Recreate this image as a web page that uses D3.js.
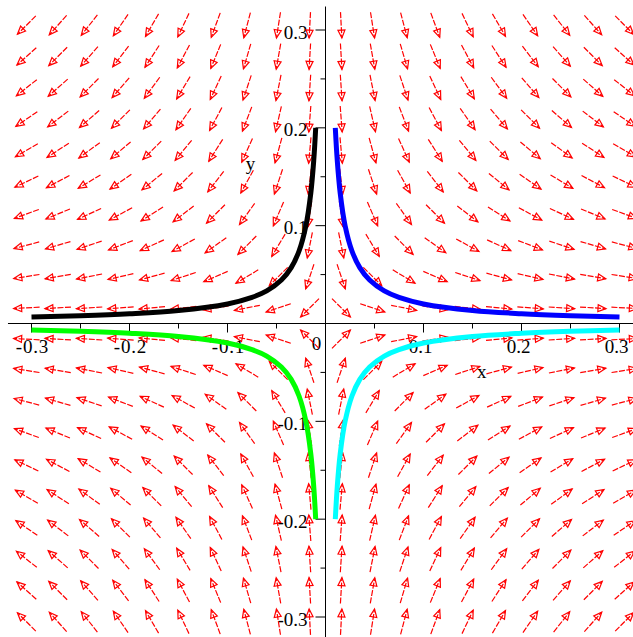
<!DOCTYPE html>
<html>
<head>
<meta charset="utf-8">
<script src="https://cdn.jsdelivr.net/npm/d3@7"></script>
<style>
  body { margin: 0; background: #fff; }
  svg { display: block; }
  .tick-label { font-family: "Liberation Serif", serif; font-size: 19px; fill: #000; }
</style>
</head>
<body>
<svg class="chart" width="633" height="637"></svg>
<script>
// arrow grid (20 x 20, same spacing both ways)
const gridPos = [-0.305, -0.273, -0.241, -0.209, -0.177, -0.145, -0.112, -0.080, -0.048, -0.016,
                 0.016, 0.048, 0.080, 0.112, 0.145, 0.177, 0.209, 0.241, 0.273, 0.305];

// tick values
const majorTicks = [-0.3, -0.2, -0.1, 0.1, 0.2, 0.3];
const minorTicks = [-0.25, -0.15, -0.05, 0.05, 0.15, 0.25];
const tickLabels = ["-0.3", "-0.2", "-0.1", "0.1", "0.2", "0.3"];

// solution curves
const blackX = [-0.300, -0.250, -0.200, -0.150, -0.100, -0.075, -0.060, -0.045, -0.035, -0.027, -0.020, -0.015, -0.012, -0.010];
const blackY = [0.0067, 0.0080, 0.0100, 0.0133, 0.0200, 0.0267, 0.0333, 0.0444, 0.0571, 0.0741, 0.1000, 0.1333, 0.1667, 0.2000];
const blueX = [0.010, 0.012, 0.015, 0.020, 0.027, 0.035, 0.045, 0.060, 0.075, 0.100, 0.150, 0.200, 0.250, 0.300];
const blueY = [0.2000, 0.1667, 0.1333, 0.1000, 0.0741, 0.0571, 0.0444, 0.0333, 0.0267, 0.0200, 0.0133, 0.0100, 0.0080, 0.0067];
const greenX = [-0.300, -0.250, -0.200, -0.150, -0.100, -0.075, -0.060, -0.045, -0.035, -0.027, -0.020, -0.015, -0.012, -0.010];
const greenY = [-0.0067, -0.0080, -0.0100, -0.0133, -0.0200, -0.0267, -0.0333, -0.0444, -0.0571, -0.0741, -0.1000, -0.1333, -0.1667, -0.2000];
const cyanX = [0.010, 0.012, 0.015, 0.020, 0.027, 0.035, 0.045, 0.060, 0.075, 0.100, 0.150, 0.200, 0.250, 0.300];
const cyanY = [-0.2000, -0.1667, -0.1333, -0.1000, -0.0741, -0.0571, -0.0444, -0.0333, -0.0267, -0.0200, -0.0133, -0.0100, -0.0080, -0.0067];

// system: x' = x, y' = -y
const field = (x, y) => [x, -y];

const svg = d3.select("svg.chart");

const x = d3.scaleLinear().domain([-0.3, 0.3]).range([31.5, 619.5]);
const y = d3.scaleLinear().domain([-0.3, 0.3]).range([617, 30]);

// axes
svg.append("line")
  .attr("x1", x(-0.324)).attr("x2", x(0.324))
  .attr("y1", y(0)).attr("y2", y(0))
  .attr("stroke", "#000").attr("stroke-width", 1);
svg.append("line")
  .attr("x1", x(0)).attr("x2", x(0))
  .attr("y1", y(0.324)).attr("y2", y(-0.324))
  .attr("stroke", "#000").attr("stroke-width", 1);

const ticks = svg.append("g").attr("stroke", "#000").attr("stroke-width", 1);
majorTicks.forEach(t => {
  ticks.append("line").attr("x1", x(t)).attr("x2", x(t)).attr("y1", y(0)).attr("y2", y(0) + 9);
  ticks.append("line").attr("x1", x(0) - 10).attr("x2", x(0)).attr("y1", y(t)).attr("y2", y(t));
});
minorTicks.forEach(t => {
  ticks.append("line").attr("x1", x(t)).attr("x2", x(t)).attr("y1", y(0)).attr("y2", y(0) + 5);
  ticks.append("line").attr("x1", x(0) - 5).attr("x2", x(0)).attr("y1", y(t)).attr("y2", y(t));
});

// tick labels
majorTicks.forEach((t, i) => {
  svg.append("text")
    .attr("class", "tick-label")
    .attr("x", x(t) + (t < 0 ? 1 : -3))
    .attr("y", y(0) + 29)
    .attr("text-anchor", "middle")
    .attr("letter-spacing", t < 0 ? 0.8 : 0)
    .text(tickLabels[i]);
  svg.append("text")
    .attr("class", "tick-label")
    .attr("x", x(0) - 18)
    .attr("y", y(t) + 8.5)
    .attr("text-anchor", "end")
    .text(tickLabels[i]);
});
svg.append("text").attr("class", "tick-label")
  .attr("x", x(0) - 9).attr("y", y(0) + 26).attr("text-anchor", "middle").text("0");
svg.append("text").attr("class", "tick-label")
  .attr("x", x(-0.0765)).attr("y", y(0.157)).attr("text-anchor", "middle").text("y");
svg.append("text").attr("class", "tick-label")
  .attr("x", x(0.1595)).attr("y", y(-0.0555)).attr("text-anchor", "middle").text("x");

// direction field
const arrowLen = 26, headLen = 8, headW = 7;
const arrows = svg.append("g")
  .attr("stroke", "#ff0000")
  .attr("stroke-width", 1.2)
  .attr("fill", "none");

gridPos.forEach(gx => {
  gridPos.forEach(gy => {
    const [u, v] = field(gx, gy);
    let px = x(gx + u) - x(gx);
    let py = y(gy + v) - y(gy);
    const n = Math.hypot(px, py);
    px /= n; py /= n;
    const cx = x(gx), cy = y(gy);
    const tx = cx + px * arrowLen / 2, ty = cy + py * arrowLen / 2;
    const sx = cx - px * arrowLen / 2, sy = cy - py * arrowLen / 2;
    const bx = tx - px * headLen, by = ty - py * headLen;
    arrows.append("line")
      .attr("x1", sx).attr("y1", sy)
      .attr("x2", tx).attr("y2", ty)
      .attr("stroke-dasharray", "6,1.5");
    arrows.append("path")
      .attr("d", "M" + tx + "," + ty +
                 "L" + (bx - py * headW / 2) + "," + (by + px * headW / 2) +
                 "L" + (bx + py * headW / 2) + "," + (by - px * headW / 2) + "Z");
  });
});

// solution curves
const line = d3.line()
  .x(d => x(d[0]))
  .y(d => y(d[1]))
  .curve(d3.curveCatmullRom);

const curves = [
  { xs: blackX, ys: blackY, color: "#000000" },
  { xs: blueX, ys: blueY, color: "#0000ff" },
  { xs: greenX, ys: greenY, color: "#00ff00" },
  { xs: cyanX, ys: cyanY, color: "#00ffff" }
];

curves.forEach(c => {
  svg.append("path")
    .datum(c.xs.map((v, i) => [v, c.ys[i]]))
    .attr("fill", "none")
    .attr("stroke", c.color)
    .attr("stroke-width", 5)
    .attr("d", line);
});
</script>
</body>
</html>
